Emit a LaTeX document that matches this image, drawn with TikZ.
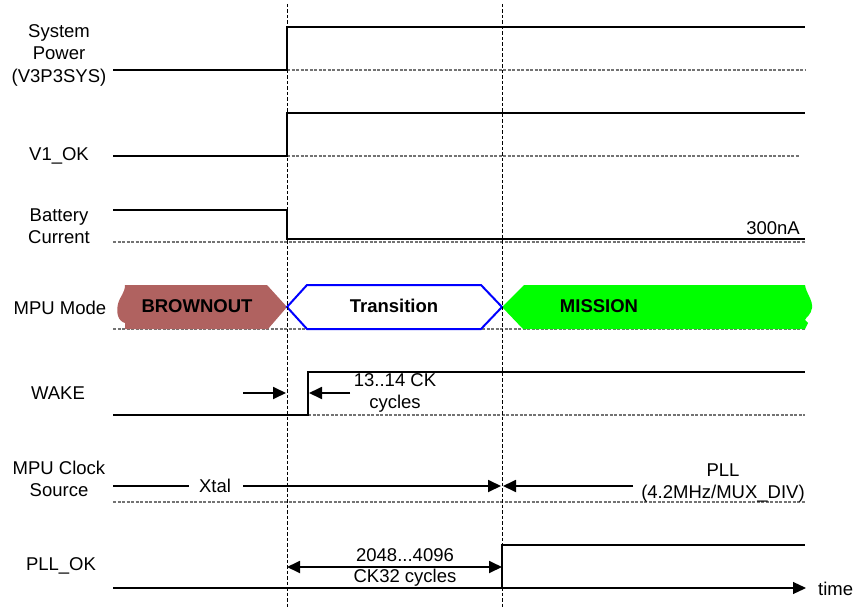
\documentclass[tikz,border=0pt]{standalone}
\usepackage{fontspec}
\setmainfont{Liberation Sans}
\usetikzlibrary{arrows.meta}
\definecolor{brownout}{RGB}{176,98,96}
\definecolor{missiongreen}{RGB}{0,255,0}
\definecolor{transblue}{RGB}{0,0,255}
\definecolor{baseGray}{RGB}{115,115,115}
\begin{document}
\begin{tikzpicture}[x=1pt,y=-1pt,
  sig/.style={line width=2.6pt, line join=miter},
  base/.style={baseGray, line width=1.2pt, dash pattern=on 3pt off 1.5pt},
  vguide/.style={black, line width=0.9pt, dash pattern=on 3.5pt off 2pt},
  lbl/.style={font=\fontsize{18.5}{22.5}\selectfont, align=center, inner sep=0pt},
  boldlbl/.style={font=\fontsize{18.5}{22.5}\selectfont\bfseries, inner sep=0pt},
  arr/.style={line width=1.8pt, -{Triangle[length=13pt,width=12pt]}},
  dblarr/.style={line width=1.8pt, {Triangle[length=13pt,width=12pt]}-{Triangle[length=13pt,width=12pt]}},
  timearr/.style={line width=1.2pt, -{Triangle[length=13pt,width=12pt]}},
]
\useasboundingbox (0,0) rectangle (858,609);

% ---------- signal labels ----------
\node[lbl] (lsys)  at (59,55)  {System\\Power\\(V3P3SYS)};
\node[lbl] (lv1)   at (59,156) {V1\_OK};
\node[lbl] (lbat)  at (59,226) {Battery\\Current};
\node[lbl] (lmode) at (60,308) {MPU Mode};
\node[lbl] (lwake) at (58,393) {WAKE};
\node[lbl] (lclk)  at (59,479) {MPU Clock\\Source};
\node[lbl] (lpll)  at (61,566) {PLL\_OK};

% ---------- gray baselines ----------
\draw[base] (287,70) -- (805,70);
\draw[base] (287,156) -- (800,156);
\draw[base] (113,242) -- (805,242);
\draw[base] (113,329) -- (805,329);
\draw[base] (308,415) -- (805,415);
\draw[base] (113,502) -- (805,502);

% ---------- MPU mode shapes ----------
\fill[brownout] (125,285) -- (267,285) -- (287,307) -- (268,329) -- (125,329)
  -- (125,323) .. controls (118,321) and (116,313) .. (118,304)
  .. controls (120,296) and (125,293) .. (125,285) -- cycle;
\fill[missiongreen] (502,307) -- (524,285) -- (805,285)
  .. controls (806,293) and (813,300) .. (812,308)
  .. controls (811,315) and (806,317) .. (805,320) -- (808,323) -- (805,329)
  -- (523,329) -- cycle;
\draw[transblue, line width=2pt, line join=miter]
  (287,307) -- (307,285) -- (481,285) -- (502,307) -- (481,329) -- (307,329) -- cycle;
\node[boldlbl] (brown) at (197,306) {BROWNOUT};
\node[boldlbl] (trans) at (394,306) {Transition};
\node[boldlbl] (miss)  at (599,306) {MISSION};

% ---------- vertical guides ----------
\coordinate (g1t) at (287,4);  \coordinate (g1b) at (287,609);
\coordinate (g2t) at (502,4);  \coordinate (g2b) at (502,609);
\draw[vguide] (g1t) -- (g1b);
\draw[vguide] (g2t) -- (g2b);

% ---------- System Power ----------
\coordinate (s0) at (113,70); \coordinate (s1) at (287,70);
\coordinate (s2) at (287,27); \coordinate (s3) at (805,27);
\draw[sig] (s0) -- (s1) -- (s2) -- (s3);

% ---------- V1_OK ----------
\coordinate (v0) at (113,156); \coordinate (v1) at (287,156);
\coordinate (v2) at (287,113); \coordinate (v3) at (805,113);
\draw[sig] (v0) -- (v1) -- (v2) -- (v3);

% ---------- Battery Current ----------
\coordinate (b0) at (113,210); \coordinate (b1) at (287,210);
\coordinate (b2) at (287,239); \coordinate (b3) at (805,239);
\draw[sig] (b0) -- (b1) -- (b2) -- (b3);
\node[lbl, anchor=east] (na) at (800,228) {300nA};

% ---------- WAKE ----------
\coordinate (w0) at (113,415); \coordinate (w1) at (308,415);
\coordinate (w2) at (308,372); \coordinate (w3) at (805,372);
\draw[sig] (w0) -- (w1) -- (w2) -- (w3);
\coordinate (wa0) at (243,393); \coordinate (wa1) at (286,393);
\coordinate (wb0) at (350,393); \coordinate (wb1) at (309,393);
\draw[arr] (wa0) -- (wa1);
\draw[arr] (wb0) -- (wb1);
\node[lbl] (ck) at (395,393) {13..14 CK\\cycles};

% ---------- MPU Clock Source ----------
\node[lbl] (xtal) at (215,486) {Xtal};
\coordinate (c0) at (113,486); \coordinate (c1) at (189,486);
\coordinate (c2) at (243,486); \coordinate (c3) at (501,486);
\coordinate (c4) at (633,486); \coordinate (c5) at (503,486);
\draw[line width=1.8pt] (c0) -- (c1);
\draw[arr] (c2) -- (c3);
\draw[arr] (c4) -- (c5);
\node[lbl] (pll) at (723,483) {PLL\\(4.2MHz/MUX\_DIV)};

% ---------- PLL_OK ----------
\coordinate (p0) at (113,588); \coordinate (p1) at (502,588);
\coordinate (p2) at (502,545); \coordinate (p3) at (805,545);
\draw[sig] (p0) -- (p1) -- (p2) -- (p3);
\coordinate (t1) at (806,588);
\draw[timearr] (p1) -- (t1);
\node[lbl, anchor=west] (time) at (818,589) {time};
\coordinate (d0) at (287,567); \coordinate (d1) at (502,567);
\draw[dblarr] (d0) -- (d1);
\node[lbl] (cyc1) at (405,555) {2048...4096};
\node[lbl] (cyc2) at (405,578) {CK32 cycles};
\end{tikzpicture}
\end{document}
